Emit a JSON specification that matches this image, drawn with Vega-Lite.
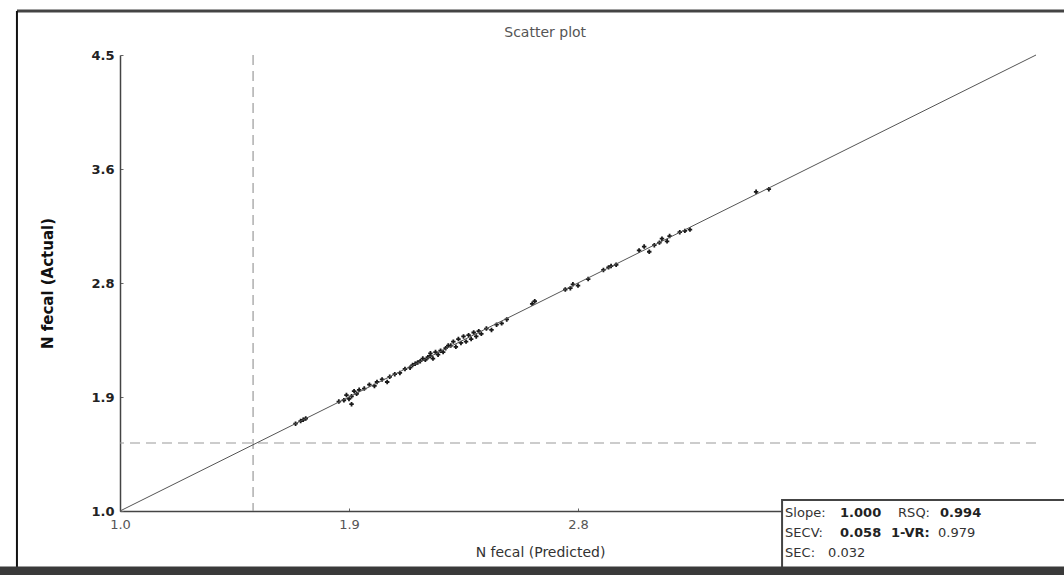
{
  "$schema": "https://vega.github.io/schema/vega-lite/v6.json",
  "width": 916,
  "height": 456,
  "autosize": {"type": "none"},
  "padding": {"left": 120, "top": 55, "right": 28, "bottom": 64},
  "background": "white",
  "config": {"view": {"stroke": null}, "font": "DejaVu Sans"},
  "data": {"values": [{}]},
  "datasets": {
    "scores": [
      {"predicted": 1.69, "actual": 1.67}, {"predicted": 1.71, "actual": 1.69}, {"predicted": 1.72, "actual": 1.70}, {"predicted": 1.73, "actual": 1.71},
      {"predicted": 1.86, "actual": 1.84}, {"predicted": 1.88, "actual": 1.85}, {"predicted": 1.89, "actual": 1.89}, {"predicted": 1.90, "actual": 1.86},
      {"predicted": 1.91, "actual": 1.88}, {"predicted": 1.92, "actual": 1.92}, {"predicted": 1.93, "actual": 1.90}, {"predicted": 1.91, "actual": 1.82},
      {"predicted": 1.94, "actual": 1.93},
      {"predicted": 1.96, "actual": 1.94}, {"predicted": 1.98, "actual": 1.97}, {"predicted": 2.00, "actual": 1.96}, {"predicted": 2.01, "actual": 1.99},
      {"predicted": 2.03, "actual": 2.01}, {"predicted": 2.05, "actual": 1.99}, {"predicted": 2.06, "actual": 2.03}, {"predicted": 2.08, "actual": 2.05},
      {"predicted": 2.10, "actual": 2.06}, {"predicted": 2.12, "actual": 2.09}, {"predicted": 2.14, "actual": 2.10}, {"predicted": 2.15, "actual": 2.12},
      {"predicted": 2.16, "actual": 2.13}, {"predicted": 2.17, "actual": 2.14}, {"predicted": 2.18, "actual": 2.15}, {"predicted": 2.19, "actual": 2.17},
      {"predicted": 2.20, "actual": 2.16}, {"predicted": 2.21, "actual": 2.18}, {"predicted": 2.22, "actual": 2.19}, {"predicted": 2.22, "actual": 2.21},
      {"predicted": 2.23, "actual": 2.17}, {"predicted": 2.24, "actual": 2.22}, {"predicted": 2.25, "actual": 2.20}, {"predicted": 2.26, "actual": 2.23},
      {"predicted": 2.27, "actual": 2.22}, {"predicted": 2.28, "actual": 2.25}, {"predicted": 2.29, "actual": 2.27},
      {"predicted": 2.30, "actual": 2.27}, {"predicted": 2.31, "actual": 2.30}, {"predicted": 2.32, "actual": 2.26}, {"predicted": 2.33, "actual": 2.32},
      {"predicted": 2.34, "actual": 2.29}, {"predicted": 2.35, "actual": 2.34}, {"predicted": 2.36, "actual": 2.30}, {"predicted": 2.37, "actual": 2.35},
      {"predicted": 2.38, "actual": 2.32}, {"predicted": 2.39, "actual": 2.37}, {"predicted": 2.40, "actual": 2.34}, {"predicted": 2.41, "actual": 2.38},
      {"predicted": 2.42, "actual": 2.36}, {"predicted": 2.44, "actual": 2.40}, {"predicted": 2.46, "actual": 2.39}, {"predicted": 2.48, "actual": 2.43},
      {"predicted": 2.50, "actual": 2.44}, {"predicted": 2.52, "actual": 2.47},
      {"predicted": 2.62, "actual": 2.59}, {"predicted": 2.63, "actual": 2.61},
      {"predicted": 2.75, "actual": 2.70}, {"predicted": 2.77, "actual": 2.71}, {"predicted": 2.78, "actual": 2.74}, {"predicted": 2.80, "actual": 2.73},
      {"predicted": 2.84, "actual": 2.78},
      {"predicted": 2.90, "actual": 2.85}, {"predicted": 2.92, "actual": 2.87}, {"predicted": 2.93, "actual": 2.88}, {"predicted": 2.95, "actual": 2.89},
      {"predicted": 3.04, "actual": 3.00}, {"predicted": 3.06, "actual": 3.03}, {"predicted": 3.08, "actual": 2.99}, {"predicted": 3.10, "actual": 3.04},
      {"predicted": 3.12, "actual": 3.06}, {"predicted": 3.13, "actual": 3.09}, {"predicted": 3.15, "actual": 3.07}, {"predicted": 3.16, "actual": 3.11},
      {"predicted": 3.20, "actual": 3.14}, {"predicted": 3.22, "actual": 3.15}, {"predicted": 3.24, "actual": 3.16},
      {"predicted": 3.50, "actual": 3.45}, {"predicted": 3.55, "actual": 3.47}
    ]
  },
  "layer": [
    {
      "data": {"name": "scores"},
      "mark": {"type": "point", "shape": "cross", "filled": true, "color": "#1a1a1a", "size": 20, "opacity": 1},
      "encoding": {
        "x": {"field": "predicted", "type": "quantitative", "scale": {"domain": [1, 4.6], "nice": false, "zero": false},
          "axis": {"title": "N fecal (Predicted)", "values": [1, 1.9, 2.8], "format": ".1f", "grid": false,
            "domainColor": "#444", "domainWidth": 1.5, "tickColor": "#666", "tickSize": -3, "labelPadding": 10,
            "labelFont": "DejaVu Sans", "labelFontSize": 13, "labelColor": "#555", "labelFlush": false,
            "titleFont": "DejaVu Sans", "titleFontSize": 14, "titleFontWeight": "normal", "titleColor": "#333",
            "titleX": 420, "titleY": 45, "titleBaseline": "alphabetic", "titleAlign": "center"}},
        "y": {"field": "actual", "type": "quantitative", "scale": {"domain": [1, 4.5], "nice": false, "zero": false},
          "axis": {"title": "N fecal (Actual)", "values": [1, 1.875, 2.75, 3.624, 4.5], "format": ".1f", "grid": false,
            "domainColor": "#444", "domainWidth": 1.5, "tickColor": "#666", "tickSize": -3, "labelPadding": 9,
            "labelFont": "DejaVu Sans", "labelFontSize": 13, "labelFontWeight": "bold", "labelColor": "#222", "labelFlush": false,
            "titleFont": "DejaVu Sans", "titleFontSize": 15, "titleFontWeight": "bold", "titleColor": "#111",
            "titleX": -73, "titleY": 228, "titleAngle": -90, "titleBaseline": "middle", "titleAlign": "center"}}
      }
    },
    {"mark": {"type": "text", "align": "center", "baseline": "middle", "fontSize": 14, "color": "#555"},
      "encoding": {"x": {"datum": 2.671, "scale": {"domain": [1, 4.6], "nice": false, "zero": false}}, "y": {"datum": 4.668, "scale": {"domain": [1, 4.5], "nice": false, "zero": false}}, "text": {"value": "Scatter plot"}}},
    {
      "mark": {"type": "rule", "color": "#444", "strokeWidth": 3},
      "encoding": {
        "x": {"datum": 0.595, "scale": {"domain": [1, 4.6], "nice": false, "zero": false}},
        "x2": {"datum": 4.75},
        "y": {"datum": 4.837, "scale": {"domain": [1, 4.5], "nice": false, "zero": false}}
      }
    },
    {
      "mark": {"type": "rule", "color": "#111", "strokeWidth": 2},
      "encoding": {
        "x": {"datum": 0.595, "scale": {"domain": [1, 4.6], "nice": false, "zero": false}},
        "y": {"datum": 4.837, "scale": {"domain": [1, 4.5], "nice": false, "zero": false}},
        "y2": {"datum": 0.54}
      }
    },
    {
      "mark": {"type": "rule", "color": "#9a9a9a", "strokeWidth": 1.2, "strokeDash": [10, 6]},
      "encoding": {
        "x": {"datum": 1.523, "scale": {"domain": [1, 4.6], "nice": false, "zero": false}}
      }
    },
    {
      "mark": {"type": "rule", "color": "#9a9a9a", "strokeWidth": 1.2, "strokeDash": [10, 6]},
      "encoding": {
        "y": {"datum": 1.522, "scale": {"domain": [1, 4.5], "nice": false, "zero": false}}
      }
    },
    {
      "mark": {"type": "rule", "color": "#555", "strokeWidth": 1},
      "encoding": {
        "x": {"datum": 1, "scale": {"domain": [1, 4.6], "nice": false, "zero": false}},
        "x2": {"datum": 4.6},
        "y": {"datum": 1, "scale": {"domain": [1, 4.5], "nice": false, "zero": false}},
        "y2": {"datum": 4.5}
      }
    },
    {
      "mark": {"type": "rect", "fill": "white", "stroke": "#444", "strokeWidth": 2},
      "encoding": {
        "x": {"datum": 3.602, "scale": {"domain": [1, 4.6], "nice": false, "zero": false}},
        "x2": {"datum": 4.75},
        "y": {"datum": 1.084, "scale": {"domain": [1, 4.5], "nice": false, "zero": false}},
        "y2": {"datum": 0.54}
      }
    },
    {
      "mark": {"type": "rule", "color": "#3a3a3a", "strokeWidth": 9},
      "encoding": {
        "x": {"datum": 0.5, "scale": {"domain": [1, 4.6], "nice": false, "zero": false}},
        "x2": {"datum": 4.75},
        "y": {"datum": 0.54, "scale": {"domain": [1, 4.5], "nice": false, "zero": false}}
      }
    },
    {"mark": {"type": "text", "align": "left", "baseline": "middle", "fontSize": 13, "color": "#333"},
      "encoding": {"x": {"datum": 3.614, "scale": {"domain": [1, 4.6], "nice": false, "zero": false}}, "y": {"datum": 0.985, "scale": {"domain": [1, 4.5], "nice": false, "zero": false}}, "text": {"value": "Slope:"}}},
    {"mark": {"type": "text", "align": "left", "baseline": "middle", "fontSize": 13, "fontWeight": "bold", "color": "#222"},
      "encoding": {"x": {"datum": 3.83, "scale": {"domain": [1, 4.6], "nice": false, "zero": false}}, "y": {"datum": 0.985, "scale": {"domain": [1, 4.5], "nice": false, "zero": false}}, "text": {"value": "1.000"}}},
    {"mark": {"type": "text", "align": "left", "baseline": "middle", "fontSize": 13, "color": "#333"},
      "encoding": {"x": {"datum": 4.058, "scale": {"domain": [1, 4.6], "nice": false, "zero": false}}, "y": {"datum": 0.985, "scale": {"domain": [1, 4.5], "nice": false, "zero": false}}, "text": {"value": "RSQ:"}}},
    {"mark": {"type": "text", "align": "left", "baseline": "middle", "fontSize": 13, "fontWeight": "bold", "color": "#222"},
      "encoding": {"x": {"datum": 4.223, "scale": {"domain": [1, 4.6], "nice": false, "zero": false}}, "y": {"datum": 0.985, "scale": {"domain": [1, 4.5], "nice": false, "zero": false}}, "text": {"value": "0.994"}}},
    {"mark": {"type": "text", "align": "left", "baseline": "middle", "fontSize": 13, "color": "#333"},
      "encoding": {"x": {"datum": 3.614, "scale": {"domain": [1, 4.6], "nice": false, "zero": false}}, "y": {"datum": 0.831, "scale": {"domain": [1, 4.5], "nice": false, "zero": false}}, "text": {"value": "SECV:"}}},
    {"mark": {"type": "text", "align": "left", "baseline": "middle", "fontSize": 13, "fontWeight": "bold", "color": "#222"},
      "encoding": {"x": {"datum": 3.83, "scale": {"domain": [1, 4.6], "nice": false, "zero": false}}, "y": {"datum": 0.831, "scale": {"domain": [1, 4.5], "nice": false, "zero": false}}, "text": {"value": "0.058"}}},
    {"mark": {"type": "text", "align": "left", "baseline": "middle", "fontSize": 13, "fontWeight": "bold", "color": "#222"},
      "encoding": {"x": {"datum": 4.03, "scale": {"domain": [1, 4.6], "nice": false, "zero": false}}, "y": {"datum": 0.831, "scale": {"domain": [1, 4.5], "nice": false, "zero": false}}, "text": {"value": "1-VR:"}}},
    {"mark": {"type": "text", "align": "left", "baseline": "middle", "fontSize": 13, "color": "#333"},
      "encoding": {"x": {"datum": 4.215, "scale": {"domain": [1, 4.6], "nice": false, "zero": false}}, "y": {"datum": 0.831, "scale": {"domain": [1, 4.5], "nice": false, "zero": false}}, "text": {"value": "0.979"}}},
    {"mark": {"type": "text", "align": "left", "baseline": "middle", "fontSize": 13, "color": "#333"},
      "encoding": {"x": {"datum": 3.614, "scale": {"domain": [1, 4.6], "nice": false, "zero": false}}, "y": {"datum": 0.678, "scale": {"domain": [1, 4.5], "nice": false, "zero": false}}, "text": {"value": "SEC:"}}},
    {"mark": {"type": "text", "align": "left", "baseline": "middle", "fontSize": 13, "color": "#333"},
      "encoding": {"x": {"datum": 3.783, "scale": {"domain": [1, 4.6], "nice": false, "zero": false}}, "y": {"datum": 0.678, "scale": {"domain": [1, 4.5], "nice": false, "zero": false}}, "text": {"value": "0.032"}}}
  ]
}
